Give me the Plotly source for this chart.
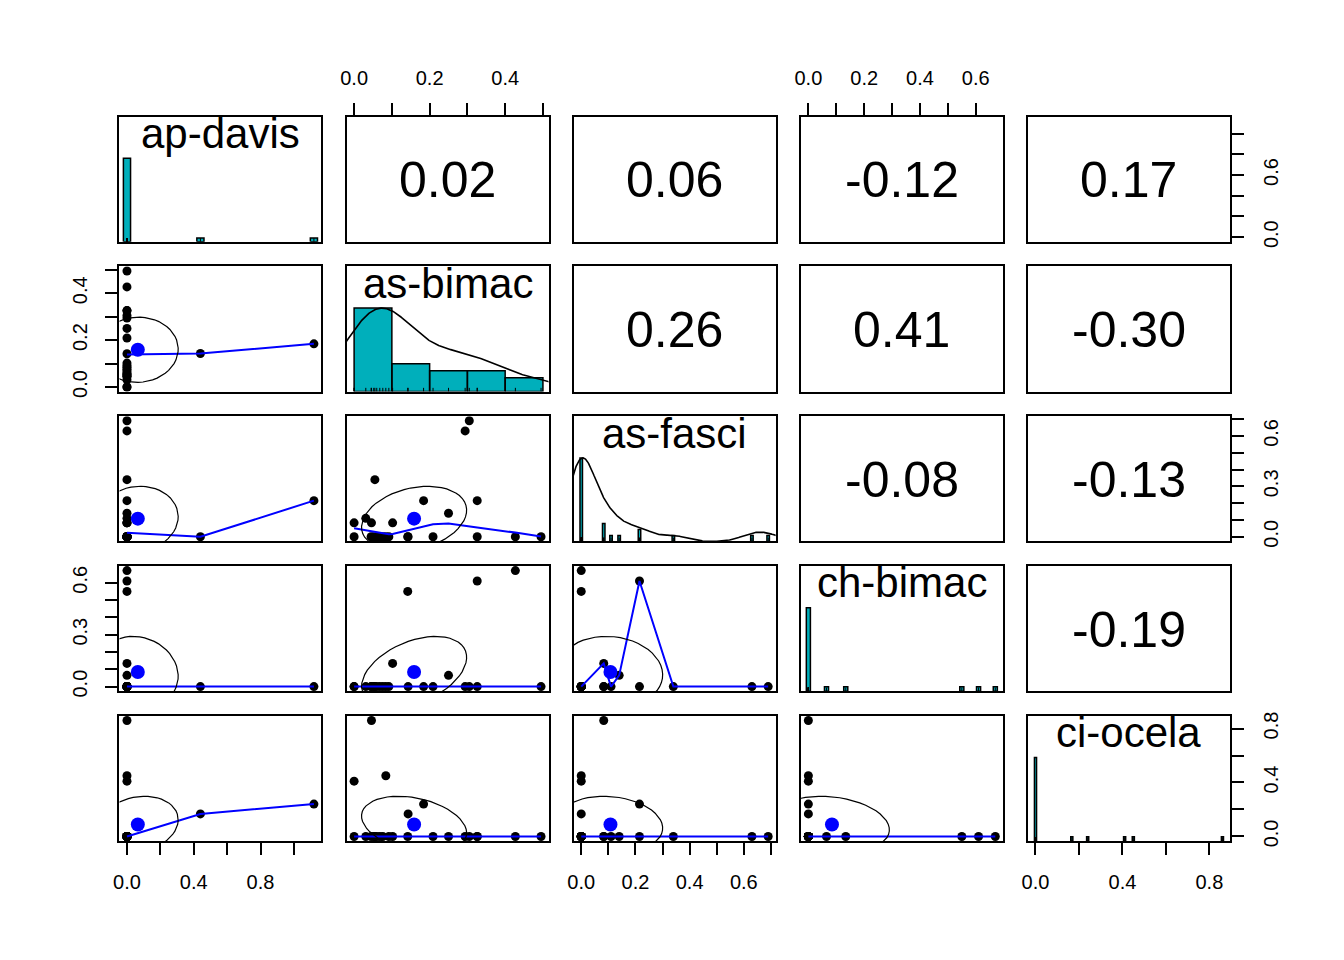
import numpy as np
import plotly.graph_objects as go

# species abundance per sample (24 samples)
names = ["ap-davis", "as-bimac", "as-fasci", "ch-bimac", "ci-ocela"]
ap_davis = [0, 0.44, 0, 0, 0, 0, 0, 0, 0, 0, 0, 0,
            0, 0, 0, 0, 0, 0, 0, 0, 0, 0, 0, 1.12]
as_bimac = [0.102, 0.143, 0.305, 0.294, 0.055, 0.326, 0.25, 0.031, 0, 0.046, 0.427, 0.142,
            0, 0.084, 0.495, 0.209, 0.326, 0.045, 0.052, 0.06, 0.068, 0.076, 0.092, 0.184]
as_fasci = [0.083, 0, 0.69, 0.63, 0.34, 0.215, 0.14, 0.11, 0.083, 0.083, 0, 0,
            0, 0, 0, 0, 0, 0, 0, 0, 0, 0, 0, 0.215]
ch_bimac = [0.134, 0, 0, 0, 0, 0.61, 0.065, 0, 0, 0, 0.67, 0.55,
            0, 0, 0, 0, 0, 0, 0, 0, 0, 0, 0, 0]
ci_ocela = [0, 0.167, 0, 0, 0, 0, 0, 0, 0, 0.86, 0, 0,
            0.41, 0.45, 0, 0, 0, 0, 0, 0, 0, 0, 0, 0.24]

# correlations printed in the upper panels
cor_row = [0, 0, 0, 0, 1, 1, 1, 2, 2, 3]
cor_col = [1, 2, 3, 4, 2, 3, 4, 3, 4, 4]
cor_val = [0.02, 0.06, -0.12, 0.17, 0.26, 0.41, -0.30, -0.08, -0.13, -0.19]

# ticks of each variable and the labels R printed (outer x axes / outer y axes)
tick_vals = [
    [0, 0.2, 0.4, 0.6, 0.8, 1.0],
    [0, 0.1, 0.2, 0.3, 0.4, 0.5],
    [0, 0.1, 0.2, 0.3, 0.4, 0.5, 0.6, 0.7],
    [0, 0.1, 0.2, 0.3, 0.4, 0.5, 0.6],
    [0, 0.2, 0.4, 0.6, 0.8],
]
col_tick_text = [
    ["0.0", "", "0.4", "", "0.8", ""],
    ["0.0", "", "0.2", "", "0.4", ""],
    ["0.0", "", "0.2", "", "0.4", "", "0.6", ""],
    ["0.0", "", "0.2", "", "0.4", "", "0.6"],
    ["0.0", "", "0.4", "", "0.8"],
]
row_tick_text = [
    ["0.0", "", "", "0.6", "", ""],
    ["0.0", "", "0.2", "", "0.4", ""],
    ["0.0", "", "", "0.3", "", "", "0.6", ""],
    ["0.0", "", "", "0.3", "", "", "0.6"],
    ["0.0", "", "0.4", "", "0.8"],
]

HIST_COL = "#00AFBB"
SMOOTH_COL = "blue"
FONT = "Liberation Sans, Arial, sans-serif"
W, H = 1344, 960
left0, top0 = 114, 113.7
panel_w, panel_h = 202.8, 126.6
step_x, step_y = 228.15, 151.4


# port of R's clowess, used by lowess() in pairs.panels
def _lowest(x, y, xs, nleft, nright, rw):
    n = len(x)
    rng = x[-1] - x[0]
    h = max(xs - x[nleft], x[nright] - xs)
    h9, h1 = 0.999 * h, 0.001 * h
    w = np.zeros(n)
    a = 0.0
    j = nleft
    while j < n:
        r = abs(x[j] - xs)
        if r <= h9:
            w[j] = 1.0 if r <= h1 else (1 - (r / h) ** 3) ** 3
            if rw is not None:
                w[j] *= rw[j]
            a += w[j]
        elif x[j] > xs:
            break
        j += 1
    nrt = j - 1
    if a <= 0:
        return False, 0.0
    ww = w[nleft:nrt + 1] / a
    xx = x[nleft:nrt + 1]
    yy = y[nleft:nrt + 1]
    if h > 0:
        a = (ww * xx).sum()
        b = xs - a
        c = (ww * (xx - a) ** 2).sum()
        if np.sqrt(c) > 0.001 * rng:
            ww = ww * (b / c * (xx - a) + 1)
    return True, (ww * yy).sum()


def lowess(x, y, f=2 / 3, iters=3):
    x = np.asarray(x, float)
    y = np.asarray(y, float)
    o = np.argsort(x, kind="stable")
    x, y = x[o], y[o]
    n = len(x)
    delta = 0.01 * (x.max() - x.min())
    ns = max(2, min(n, int(f * n + 1e-7)))
    ys = np.zeros(n)
    rw = np.ones(n)
    it = 1
    while it <= iters + 1:
        nleft, nright, last, i = 0, ns - 1, -1, 0
        while True:
            if nright < n - 1:
                if x[i] - x[nleft] > x[nright + 1] - x[i]:
                    nleft += 1
                    nright += 1
                    continue
            ok, val = _lowest(x, y, x[i], nleft, nright, rw if it > 1 else None)
            ys[i] = val if ok else y[i]
            if last < i - 1:
                denom = x[i] - x[last]
                for jj in range(last + 1, i):
                    alpha = (x[jj] - x[last]) / denom
                    ys[jj] = alpha * ys[i] + (1 - alpha) * ys[last]
            last = i
            cut = x[last] + delta
            i = last + 1
            while i < n:
                if x[i] > cut:
                    break
                if x[i] == x[last]:
                    ys[i] = ys[last]
                    last = i
                i += 1
            i = max(last + 1, i - 1)
            if last >= n - 1:
                break
        res = y - ys
        sc = np.abs(res).sum() / n
        if it > iters:
            break
        r = np.abs(res)
        s = np.sort(r)
        m1 = n // 2
        cmad = 3 * (s[m1] + s[n - m1 - 1]) if n % 2 == 0 else 6 * s[m1]
        if cmad < 1e-7 * sc:
            break
        rw = np.where(r <= 0.001 * cmad, 1.0,
                      np.where(r <= 0.999 * cmad, (1 - (r / cmad) ** 2) ** 2, 0.0))
        it += 1
    return x, ys


def density(v):
    v = np.asarray(v, float)
    q1, q3 = np.percentile(v, [25, 75])
    bw = 1.06 * min(np.std(v, ddof=1), (q3 - q1) / 1.34) * len(v) ** -0.2
    if bw <= 0:
        return None  # R's density() fails here, so no curve
    gx = np.linspace(v.min() - 3 * bw, v.max() + 3 * bw, 512)
    gy = np.exp(-0.5 * ((gx[:, None] - v[None, :]) / bw) ** 2).sum(axis=1)
    return gx, gy / gy.max()


def sturges_breaks(v):
    lo, hi = min(v), max(v)
    cell = (hi - lo) / np.ceil(np.log2(len(v)) + 1)
    U = 10 ** np.floor(np.log10(cell))
    unit = U
    if 2 * U - cell < 1.5 * (cell - unit):
        unit = 2 * U
    if 5 * U - cell < 2.75 * (cell - unit):
        unit = 5 * U
    if 10 * U - cell < 1.5 * (cell - unit):
        unit = 10 * U
    k = np.arange(np.floor(lo / unit + 1e-7), np.ceil(hi / unit - 1e-7) + 1)
    return np.round(k * unit, 10)


def diag_bars(v):
    v = np.asarray(v, float)
    vals, counts = np.unique(v, return_counts=True)
    if len(vals) < 11:
        # few distinct values: one thin bar per value, as psych does
        half = np.diff(vals).min() * (len(vals) - 1) / 41
        return vals - half, vals + half, counts / counts.max()
    br = sturges_breaks(v)
    idx = np.clip(np.searchsorted(br, v, side="left") - 1, 0, len(br) - 2)
    counts = np.bincount(idx, minlength=len(br) - 1)
    return br[:-1], br[1:], counts / counts.max()


def ellipse(xm, ym, xs, ys, r, seg=51):
    ang = np.arange(seg + 1) * 2 * np.pi / seg
    unit = np.column_stack([np.cos(ang), np.sin(ang)])
    th = np.sign(r) / np.sqrt(2) if abs(r) > 0 else 1 / np.sqrt(2)
    shape = np.diag([np.sqrt(1 + r), np.sqrt(1 - r)]) @ np.array([[th, th], [-th, th]])
    e = unit @ shape
    return e[:, 0] * xs + xm, e[:, 1] * ys + ym


def ax(prefix, k):
    return prefix + ("" if k == 1 else str(k))


data = [np.array(v, float) for v in (ap_davis, as_bimac, as_fasci, ch_bimac, ci_ocela)]
ranges = []
for v in data:
    span = v.max() - v.min()
    ranges.append([v.min() - 0.04 * span, v.max() + 0.04 * span])
cor = {(r, c): val for r, c, val in zip(cor_row, cor_col, cor_val)}

fig = go.Figure()
layout = dict(width=W, height=H, margin=dict(l=0, r=0, t=0, b=0), autosize=False,
              paper_bgcolor="white", plot_bgcolor="white", showlegend=False)
annotations = []
tickfont = dict(family=FONT, size=20, color="black")

for i in range(5):
    for j in range(5):
        k = i * 5 + j + 1
        xl = left0 + j * step_x
        yt = top0 + i * step_y
        base = dict(showline=True, linecolor="black", linewidth=2, mirror=True,
                    showgrid=False, zeroline=False, ticks="", showticklabels=False,
                    fixedrange=True)
        xa = dict(base, domain=[xl / W, (xl + panel_w) / W], range=ranges[j],
                  anchor=ax("y", k))
        ya = dict(base, domain=[1 - (yt + panel_h) / H, 1 - yt / H], range=ranges[i],
                  anchor=ax("x", k))
        tk = dict(ticks="outside", ticklen=12, tickwidth=2, tickcolor="black",
                  showticklabels=True, tickfont=tickfont, ticklabelstandoff=10)
        if (i == 0 and j in (1, 3)) or (i == 4 and j in (0, 2, 4)):
            xa.update(tk, side="top" if i == 0 else "bottom",
                      tickvals=tick_vals[j], ticktext=col_tick_text[j])
        if (j == 0 and i in (1, 3)) or (j == 4 and i in (0, 2, 4)):
            ya.update(tk, side="left" if j == 0 else "right", tickangle=-90,
                      tickvals=tick_vals[i], ticktext=row_tick_text[i])
        layout[ax("xaxis", k)] = xa
        layout[ax("yaxis", k)] = ya
        xr, yr = ax("x", k), ax("y", k)
        cx = (xl + panel_w / 2) / W

        if i > j:
            # lower panels: points, lowess smoother, correlation ellipse
            x, y = data[j], data[i]
            fig.add_trace(go.Scatter(x=x, y=y, mode="markers", xaxis=xr, yaxis=yr,
                                     marker=dict(color="black", size=9)))
            lx, ly = lowess(x, y)
            fig.add_trace(go.Scatter(x=lx, y=ly, mode="lines", xaxis=xr, yaxis=yr,
                                     line=dict(color=SMOOTH_COL, width=2)))
            r = cor[(j, i)]
            ex, ey = ellipse(x.mean(), y.mean(), x.std(ddof=1), y.std(ddof=1), r)
            fig.add_trace(go.Scatter(x=[x.mean()], y=[y.mean()], mode="markers",
                                     xaxis=xr, yaxis=yr,
                                     marker=dict(color=SMOOTH_COL, size=14)))
            fig.add_trace(go.Scatter(x=ex, y=ey, mode="lines", xaxis=xr, yaxis=yr,
                                     line=dict(color="black", width=1.2)))
        elif i < j:
            # upper panels: correlation value
            fig.add_trace(go.Scatter(x=[], y=[], xaxis=xr, yaxis=yr))
            annotations.append(dict(x=cx, y=1 - (yt + panel_h / 2 + 1) / H, xref="paper",
                                    yref="paper", text="%.2f" % cor[(i, j)],
                                    showarrow=False, xanchor="center", yanchor="middle",
                                    font=dict(family=FONT, size=50, color="black")))
        else:
            # diagonal: histogram, density and rug on a 0..1.5 overlay scale
            oy = "yaxis%d" % (26 + i)
            layout[oy] = dict(overlaying=yr, range=[0, 1.5], visible=False,
                              anchor=xr, fixedrange=True)
            hy = "y%d" % (26 + i)
            fig.add_trace(go.Scatter(x=[], y=[], xaxis=xr, yaxis=yr))
            left, right, h = diag_bars(data[i])
            bx, by = [], []
            for a, b, c in zip(left, right, h):
                bx += [a, a, b, b, a, None]
                by += [0, c, c, 0, 0, None]
            fig.add_trace(go.Scatter(x=bx, y=by, mode="lines", fill="toself",
                                     fillcolor=HIST_COL, xaxis=xr, yaxis=hy,
                                     line=dict(color="black", width=1.5)))
            d = density(data[i])
            if d is not None:
                fig.add_trace(go.Scatter(x=d[0], y=d[1], mode="lines", xaxis=xr, yaxis=hy,
                                         line=dict(color="black", width=1.6)))
            rx, ry = [], []
            for v in data[i]:
                rx += [v, v, None]
                ry += [0, 0.045, None]
            fig.add_trace(go.Scatter(x=rx, y=ry, mode="lines", xaxis=xr, yaxis=hy,
                                     line=dict(color="black", width=1)))
            annotations.append(dict(x=cx, y=1 - (yt + panel_h * (1 - 0.833) - 4) / H,
                                    xref="paper", yref="paper", text=names[i],
                                    showarrow=False, xanchor="center", yanchor="middle",
                                    font=dict(family=FONT, size=42, color="black")))

layout["annotations"] = annotations
fig.update_layout(**layout)
fig.update_traces(hoverinfo="skip")
fig.write_html("out.html", config={"displayModeBar": False},
               post_script="document.body.style.margin='0px';")
